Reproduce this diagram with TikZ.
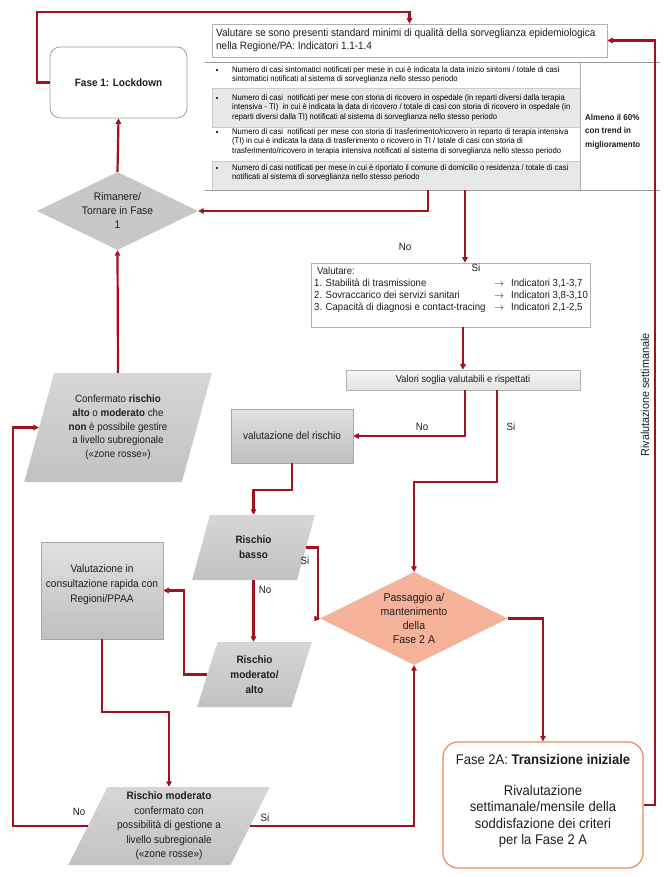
\documentclass[tikz,border=0pt]{standalone}
\usepackage{fontspec}
\setmainfont[FakeStretch=0.93]{Liberation Sans}
\usetikzlibrary{shapes.geometric,arrows.meta,calc}
\definecolor{dred}{HTML}{A0121F}
\definecolor{rowgray}{HTML}{E8E8E8}
\definecolor{bordergray}{HTML}{A8A8A8}
\definecolor{salmon}{HTML}{F6B29A}
\definecolor{orangeb}{HTML}{E98A4E}
\definecolor{txt}{HTML}{1E1E1E}
\newcommand{\myfs}[2]{\fontsize{#1}{#2}\selectfont}
\begin{document}
\begin{tikzpicture}[x=1pt,y=-1pt,
  arr/.style={draw=dred,line width=2.2pt,-{Triangle[length=5.5pt,width=5.5pt]}},
  lbl/.style={font=\myfs{10.5}{12},text=txt,inner sep=0},
  para/.style={trapezium,trapezium stretches=true,inner sep=0,top color=black!16,bottom color=black!24,draw=none,align=center,text=txt},
  gbox/.style={draw=bordergray,top color=black!12,bottom color=black!25,line width=0.6pt},
  tabtxt/.style={font=\myfs{8.2}{9.6},text=black,align=left,inner sep=0,anchor=north west},
  bul/.style={fill=black!80,minimum size=1.5pt,inner sep=0},
  tabline/.style={draw=black!40,line width=0.6pt}]
\useasboundingbox (0,0) rectangle (667,877);
\fill[white] (0,0) rectangle (667,877);

% ---------- top box
\node[draw=black!30,line width=0.6pt,minimum width=395pt,minimum height=33pt,inner sep=4pt] (topbox) at (409.5,40.5) {};
\node[align=left,inner sep=0,font=\myfs{10.7}{13},text=txt,anchor=west] (toptxt) at (216,40.5)
 {Valutare se sono presenti standard minimi di qualità della sorveglianza epidemiologica\\nella Regione/PA: Indicatori 1.1-1.4};

% ---------- table
\fill[rowgray,draw=black!20] (212,88) rectangle (580,127);
\fill[rowgray,draw=black!20] (212,161) rectangle (580,190);
\draw[tabline] (205,62) -- (660,62);
\draw[tabline] (205,190) -- (660,190);
\draw[black!30,line width=0.5pt] (580,62) -- (580,190);
\node[bul] (b1) at (217,70) {};
\node[bul] (b2) at (217,98) {};
\node[bul] (b3) at (217,132) {};
\node[bul] (b4) at (217,168) {};
\node[tabtxt] (r1) at (232,66) {Numero di casi sintomatici notificati per mese in cui è indicata la data inizio sintomi / totale di casi\\sintomatici notificati al sistema di sorveglianza nello stesso periodo};
\node[tabtxt] (r2) at (232,94) {Numero di casi\ \ notificati per mese con storia di ricovero in ospedale (in reparti diversi dalla terapia\\intensiva - TI)\ \ in cui è indicata la data di ricovero / totale di casi con storia di ricovero in ospedale (in\\reparti diversi dalla TI) notificati al sistema di sorveglianza nello stesso periodo};
\node[tabtxt] (r3) at (232,128) {Numero di casi\ \ notificati per mese con storia di trasferimento/ricovero in reparto di terapia intensiva\\(TI) in cui è indicata la data di trasferimento o ricovero in TI / totale di casi con storia di\\trasferimento/ricovero in terapia intensiva notificati al sistema di sorveglianza nello stesso periodo};
\node[tabtxt] (r4) at (232,164) {Numero di casi notificati per mese in cui è riportato il comune di domicilio o residenza / totale di casi\\notificati al sistema di sorveglianza nello stesso periodo};
\node[font=\bfseries\myfs{8.6}{13.5},text=txt,align=left,anchor=west,inner sep=0] (almeno) at (585,131.5) {Almeno il 60\%\\con trend in\\miglioramento};
\coordinate (t1) at (428,190);
\coordinate (t2) at (465,190);

% ---------- left column
\node[draw=black!38,line width=0.8pt,rounded corners=10pt,minimum width=137pt,minimum height=71pt,font=\bfseries\myfs{10.7}{13},text=txt] (lock) at (118.5,82.5) {Fase 1: Lockdown};
\node[diamond,fill=black!22,minimum width=161pt,minimum height=78pt,aspect=2.06,inner sep=0,align=center,font=\myfs{11}{14},text=txt] (rim) at (117.5,211) {Rimanere/\\Tornare in Fase\\1};
\node[para,minimum width=188pt,minimum height=109pt,trapezium left angle=70.3,trapezium right angle=109.7,font=\myfs{10.5}{13.7}] (conf) at (118,427.5)
 {Confermato \textbf{rischio}\\\textbf{alto} o \textbf{moderato} che\\\textbf{non} è possibile gestire\\a livello subregionale\\(«zone rosse»)};

% ---------- middle
\node[draw=black!30,line width=0.6pt,minimum width=279pt,minimum height=64pt] (val) at (450.5,295) {};
\node[font=\myfs{10.3}{12},text=txt,align=left,anchor=north west,inner sep=0] (valtxt) at (314,267)
 {\hspace{3pt}Valutare:\\
  \makebox[180pt][l]{1. Stabilità di trasmissione}$\rightarrow$\hspace{7pt}Indicatori 3,1-3,7\\
  \makebox[180pt][l]{2. Sovraccarico dei servizi sanitari}$\rightarrow$\hspace{7pt}Indicatori 3,8-3,10\\
  \makebox[180pt][l]{3. Capacità di diagnosi e contact-tracing}$\rightarrow$\hspace{7pt}Indicatori 2,1-2,5};
\node[draw=black!30,line width=0.6pt,top color=black!4,bottom color=black!11,minimum width=234pt,minimum height=20pt,font=\myfs{10}{12},text=txt] (valori) at (463,380) {Valori soglia valutabili e rispettati};
\coordinate (v1) at (465,390);
\coordinate (v2) at (497,390);
\node[gbox,minimum width=122pt,minimum height=54pt,font=\myfs{10.7}{12},text=txt] (risk) at (292,436) {valutazione del rischio};
\node[para,minimum width=123pt,minimum height=65pt,trapezium left angle=72.1,trapezium right angle=107.9,font=\bfseries\myfs{10.7}{15}] (basso) at (253.5,547.5) {Rischio\\basso};
\node[para,minimum width=115pt,minimum height=65pt,trapezium left angle=70.9,trapezium right angle=109.1,font=\bfseries\myfs{10.7}{15}] (modalto) at (254.5,674.5) {Rischio\\moderato/\\alto};
\node[gbox,minimum width=122pt,minimum height=97pt] (consult) at (102,590.5) {};
\node[font=\myfs{10.9}{15},text=txt,align=center,inner sep=0] (consulttxt) at (102,585) {Valutazione in\\consultazione rapida con\\Regioni/PPAA};
\node[para,minimum width=202pt,minimum height=78pt,trapezium left angle=64,trapezium right angle=116,font=\myfs{10.8}{14.5}] (modsub) at (169,826)
 {\textbf{Rischio moderato}\\confermato con\\possibilità di gestione a\\livello subregionale\\(«zone rosse»)};
\node[diamond,fill=salmon,minimum width=188pt,minimum height=93pt,aspect=2.02,inner sep=0,align=center,font=\myfs{11.3}{14},text=txt] (pass) at (414,618.5) {Passaggio a/\\mantenimento\\della\\Fase 2 A};
\node[draw=orangeb,line width=1.2pt,rounded corners=15pt,minimum width=200pt,minimum height=126pt] (fase2a) at (543,805) {};
\node[align=center,font=\myfs{14}{16.5},text=txt,inner sep=0] (fase2atxt) at (543,801)
 {Fase 2A: \textbf{Transizione iniziale}\\[14pt]Rivalutazione\\settimanale/mensile della\\soddisfazione dei criteri\\per la Fase 2 A};

% ---------- labels
\node[lbl] (lno1) at (405,247) {No};
\node[lbl] (lsi1) at (476,268) {Si};
\node[lbl] (lno2) at (422,427) {No};
\node[lbl] (lsi2) at (511,427) {Si};
\node[lbl] (lsi3) at (305,561) {Si};
\node[lbl] (lno3) at (265,590) {No};
\node[lbl] (lno4) at (79,812) {No};
\node[lbl] (lsi4) at (265,818) {Si};
\node[lbl,font=\myfs{11.6}{13},rotate=90] (rival) at (645,395) {Rivalutazione settimanale};

% ---------- connectors
\coordinate (lp) at (37,12);
\draw[arr] (lock.west) -| (lp) -| (topbox.north);
\coordinate (rr) at (655,40.5);
\draw[arr] (fase2a.east) -| (rr) -- (topbox.east);
\draw[arr] (t1) |- (rim.east);
\draw[arr] (t2) -- (t2 |- val.north);
\draw[arr] (val.south -| valori.north) -- (valori.north);
\draw[arr] (v1) |- (risk.east);
\draw[arr] (v2) |- ([yshift=90pt]pass.north) -- (pass.north);
\draw[arr] (risk.south) -- ++(0,27) -| (basso.north);
\draw[arr] (basso.center |- basso.bottom side) -- (basso.center |- modalto.top side);
\draw[arr] (basso.right side) -- ++(12,0) |- (pass.west);
\draw[arr] (modalto.left side) -- ++(-23,0) |- (consult.east);
\draw[arr] (consult.south) -- ++(0,73) -| (modsub.center |- modsub.north);
\draw[arr] (modsub.left side) -- ++(-75,0) |- (conf.left side);
\draw[arr] (modsub.right side) -| (pass.south);
\draw[arr] (conf.center |- conf.north) -- (rim.south);
\draw[arr] (rim.north) -- (lock.south);
\draw[arr] (pass.east) -| (fase2a.north);
\end{tikzpicture}
\end{document}
